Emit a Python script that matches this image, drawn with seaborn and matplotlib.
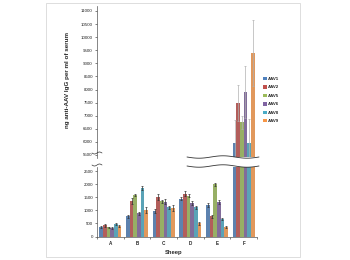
import numpy as np
import pandas as pd
import matplotlib
matplotlib.use("Agg")
import matplotlib.pyplot as plt
import seaborn as sns
from matplotlib.patches import Rectangle

sns.set_style("white")
plt.rcParams['font.family'] = ['Liberation Sans', 'DejaVu Sans']

sheep = ["A", "B", "C", "D", "E", "F"]
serotypes = ["AAV1", "AAV2", "AAV5", "AAV6", "AAV8", "AAV9"]
colors = ["#4F81BD", "#C0504D", "#9BBB59", "#8064A2", "#4BACC6", "#F79646"]

aav1 = [350, 780, 980, 1450, 1220, 5950]
aav2 = [430, 1350, 1520, 1650, 770, 7480]
aav5 = [350, 1600, 1350, 1560, 2000, 6750]
aav6 = [310, 900, 1340, 1290, 1340, 7900]
aav8 = [490, 1850, 1130, 1120, 670, 5960]
aav9 = [420, 1030, 1100, 510, 350, 9400]

err1 = [40, 60, 60, 60, 80, 900]
err2 = [50, 110, 130, 80, 60, 700]
err5 = [30, 50, 70, 60, 60, 250]
err6 = [40, 60, 90, 70, 80, 1000]
err8 = [40, 80, 60, 70, 50, 900]
err9 = [40, 110, 110, 50, 40, 1250]

values = [aav1, aav2, aav5, aav6, aav8, aav9]
errors = [err1, err2, err5, err6, err8, err9]

rows = []
for s, vals, errs in zip(serotypes, values, errors):
    for sh, v, e in zip(sheep, vals, errs):
        rows.append({"Sheep": sh, "Serotype": s, "Value": v, "Err": e})
df = pd.DataFrame(rows)

W, H = 350, 260
fig = plt.figure(figsize=(W / 100, H / 100), dpi=100)
fig.patch.set_facecolor("white")

def frac_y(py):
    return (H - py) / H

left = 97 / W
width = 160 / W
ax_lo = fig.add_axes([left, frac_y(236.5), width, (236.5 - 167) / H])
ax_hi = fig.add_axes([left, frac_y(158), width, (158 - 6) / H])

pal = dict(zip(serotypes, colors))
for ax in (ax_lo, ax_hi):
    sns.barplot(data=df, x="Sheep", y="Value", hue="Serotype", hue_order=serotypes,
                order=sheep, palette=pal, errorbar=None, width=0.82,
                edgecolor="none", legend=False, ax=ax)
    # error bars from bar containers
    for cont, s in zip(ax.containers, serotypes):
        sub = df[df.Serotype == s].set_index("Sheep").loc[sheep]
        for patch, (v, e, sh) in zip(cont.patches, zip(sub.Value, sub.Err, sheep)):
            xc = patch.get_x() + patch.get_width() / 2
            col = "#b0b0b0" if sh == "F" else "#333333"
            ax.errorbar(xc, v, yerr=[[e], [e]], fmt="none", ecolor=col,
                        elinewidth=0.5, capsize=0.8, capthick=0.5)

ax_lo.set_ylim(0, 2670)
ax_hi.set_ylim(5385, 11190)
for ax in (ax_lo, ax_hi):
    ax.set_xlim(-0.5, 5.5)
    ax.set_xlabel("")
    ax.set_ylabel("")
    for sp in ["top", "right"]:
        ax.spines[sp].set_visible(False)
    ax.spines["left"].set_linewidth(0.5)
    ax.spines["left"].set_color("#555555")
    ax.tick_params(axis="y", labelsize=3.2, length=1.5, width=0.4, pad=1.5, left=True, colors="#222222")

ax_lo.set_yticks(np.arange(0, 2501, 500))
ax_hi.set_yticks(np.arange(5500, 11001, 500))
ax_hi.spines["bottom"].set_visible(False)
ax_hi.set_xticks([])
ax_lo.spines["bottom"].set_linewidth(0.5)
ax_lo.spines["bottom"].set_color("#555555")
ax_lo.set_xticks(np.arange(-0.5, 6, 1))
ax_lo.set_xticklabels([])
ax_lo.set_xticks(np.arange(6), minor=True)
ax_lo.set_xticklabels(sheep, minor=True, fontsize=3.3, fontweight="bold")
ax_lo.tick_params(axis="x", which="major", length=1.5, width=0.4, bottom=True)
ax_lo.tick_params(axis="x", which="minor", length=0, pad=3, bottom=True)
ax_lo.set_xlabel("Sheep", fontsize=4.2, fontweight="bold", labelpad=1.5)
ax_lo.xaxis.set_label_coords(0.48, -0.2)

fig.text(68 / W, frac_y(80), "ng anti-AAV IgG per ml of serum", rotation=90,
         fontsize=4.5, fontweight="bold", ha="center", va="center")

# break gap across F bars and on left axis
gap = Rectangle((185 / W, frac_y(166)), 75 / W, (166 - 157) / H, transform=fig.transFigure,
                facecolor="white", edgecolor="none", zorder=5)
fig.patches.append(gap)
t = np.linspace(0, 1, 60)
for py in (157, 166):
    xs = (187 + 72 * t) / W
    ys = frac_y(py + 1.2 * np.sin(2 * np.pi * t * 1.5))
    fig.lines.append(plt.Line2D(xs, ys, transform=fig.transFigure, color="#333333", lw=0.6, zorder=6))
for py in (153, 165):
    xs = (92 + 10 * t) / W
    ys = frac_y(py + 1.0 * np.sin(2 * np.pi * t))
    fig.lines.append(plt.Line2D(xs, ys, transform=fig.transFigure, color="#333333", lw=0.5, zorder=6))

# legend
handles = [Rectangle((0, 0), 1, 1, facecolor=c, edgecolor="none") for c in colors]
fig.legend(handles, serotypes, loc="center left", bbox_to_anchor=(259 / W, frac_y(100)),
           frameon=False, fontsize=3.2, prop={"weight": "bold", "size": 3.2},
           handlelength=0.8, handleheight=0.8, handletextpad=0.3, labelspacing=0.95)

# outer border
fig.patches.append(Rectangle((46 / W, frac_y(257)), (300 - 46) / W, (257 - 3) / H,
                             transform=fig.transFigure, facecolor="none",
                             edgecolor="#d8d8d8", lw=0.6))

fig.savefig("out.png", dpi=100)
